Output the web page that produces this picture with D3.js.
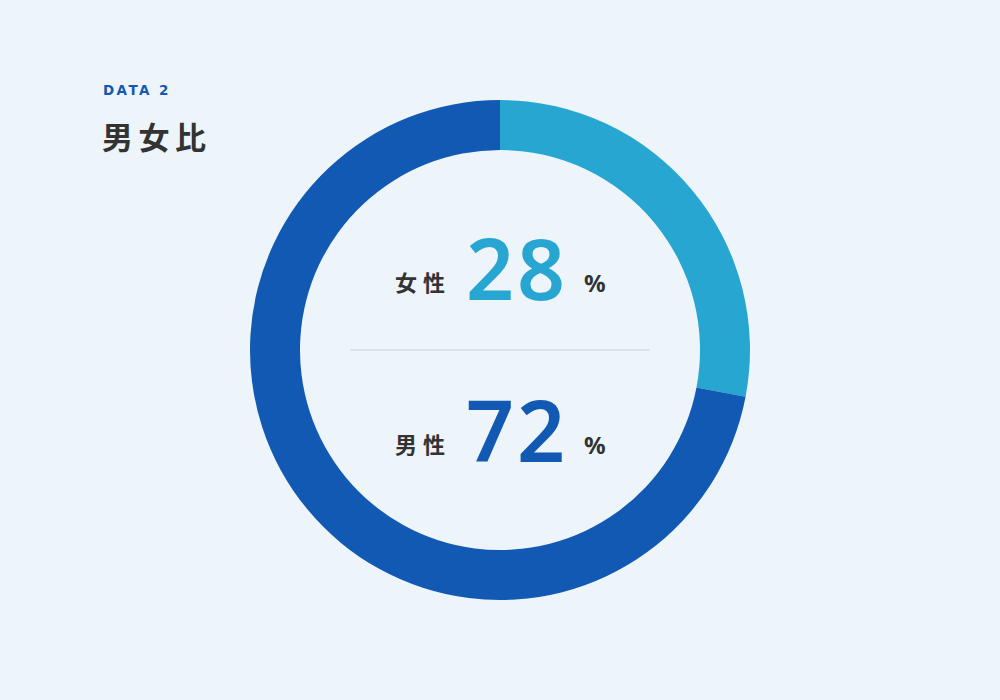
<!DOCTYPE html>
<html>
<head>
<meta charset="utf-8">
<script src="https://cdn.jsdelivr.net/npm/d3@7"></script>
<style>
  html, body { margin: 0; padding: 0; background: #edf5fa; }
  svg { display: block; }
</style>
</head>
<body>
<div id="chart"></div>
<script>
const categories = ['女性', '男性'];
const shares = [28, 72];
const colors = ['#27a6d2', '#1259b3'];
const tag = 'DATA 2';
const title = '男女比';

const width = 1000;
const height = 700;
const cx = 500;
const cy = 350;

const svg = d3.select('#chart').append('svg')
    .attr('width', width)
    .attr('height', height);

svg.append('rect')
    .attr('width', width)
    .attr('height', height)
    .attr('fill', '#edf5fa');

// heading
svg.append('text')
    .attr('x', 103)
    .attr('y', 95)
    .attr('font-family', '"DejaVu Sans", sans-serif')
    .attr('font-weight', 700)
    .attr('font-size', 13.5)
    .attr('letter-spacing', 2.4)
    .attr('fill', '#1259b3')
    .text(tag);

svg.append('text')
    .attr('x', 102)
    .attr('y', 149)
    .attr('font-family', '"Noto Sans CJK JP", sans-serif')
    .attr('font-weight', 700)
    .attr('font-size', 31)
    .attr('letter-spacing', 5.5)
    .attr('fill', '#333333')
    .text(title);

// donut
const pie = d3.pie().sort(null).value(d => d);
const arc = d3.arc().innerRadius(200).outerRadius(250);

const ring = svg.append('g')
    .attr('transform', `translate(${cx}, ${cy})`);

ring.selectAll('path')
    .data(pie(shares))
    .join('path')
    .attr('d', arc)
    .attr('fill', (d, i) => colors[i]);

// centre labels
svg.append('line')
    .attr('x1', 350).attr('x2', 650)
    .attr('y1', cy).attr('y2', cy)
    .attr('stroke', '#d3dde1')
    .attr('stroke-width', 1.5);

const rowBase = [300, 462];

const rows = svg.selectAll('g.row')
    .data(categories)
    .join('g')
    .attr('class', 'row')
    .attr('transform', (d, i) => `translate(0, ${rowBase[i]})`);

rows.append('text')
    .attr('x', 395)
    .attr('y', -9)
    .attr('font-family', '"Noto Sans CJK JP", sans-serif')
    .attr('font-weight', 700)
    .attr('font-size', 22)
    .attr('letter-spacing', 6)
    .attr('fill', '#333333')
    .text(d => d);

rows.append('text')
    .attr('x', 517)
    .attr('y', 0)
    .attr('text-anchor', 'middle')
    .attr('font-family', '"Noto Sans", sans-serif')
    .attr('font-weight', 600)
    .attr('font-size', 84)
    .attr('letter-spacing', 3)
    .attr('fill', (d, i) => colors[i])
    .text((d, i) => shares[i]);

rows.append('text')
    .attr('x', 584)
    .attr('y', -8)
    .attr('font-family', '"Noto Sans", sans-serif')
    .attr('font-weight', 700)
    .attr('font-size', 24)
    .attr('fill', '#333333')
    .text('%');
</script>
</body>
</html>
